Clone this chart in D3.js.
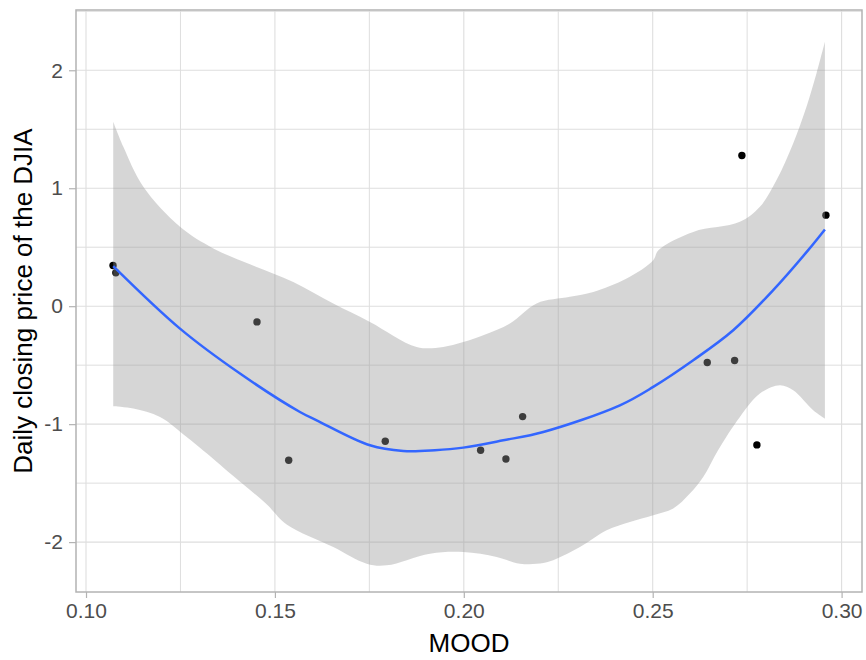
<!DOCTYPE html>
<html>
<head>
<meta charset="utf-8">
<script src="https://cdn.jsdelivr.net/npm/d3@7/dist/d3.min.js"></script>
<style>
  html, body { margin: 0; padding: 0; background: #fff; }
  svg { display: block; font-family: "Liberation Sans", Arial, sans-serif; }
</style>
</head>
<body>
<svg id="chart" width="866" height="660"></svg>
<script>
// ---- data ----
const moodX = [0.10715, 0.1079, 0.14526, 0.15365, 0.17921, 0.20445, 0.21115, 0.21557, 0.26444, 0.27168, 0.27758, 0.27361, 0.29585];
const djiaY = [0.345, 0.283, -0.133, -1.306, -1.145, -1.221, -1.295, -0.936, -0.478, -0.461, -1.176, 1.278, 0.772];

const smoothX = [0.1072, 0.12488, 0.14076, 0.15663, 0.16105, 0.17516, 0.18398, 0.19236, 0.19986, 0.21045, 0.22104, 0.24132, 0.25014, 0.26073, 0.27131, 0.2819, 0.29116, 0.29558];
const smoothY = [0.34, -0.19, -0.571, -0.897, -0.967, -1.179, -1.227, -1.221, -1.199, -1.137, -1.066, -0.840, -0.684, -0.458, -0.204, 0.136, 0.475, 0.650];

const upperX = [0.1072, 0.10988, 0.11517, 0.12488, 0.1337, 0.1434, 0.15486, 0.16545, 0.17516, 0.18751, 0.19457, 0.20515, 0.21221, 0.21927, 0.22809, 0.23427, 0.24309, 0.25014, 0.2515, 0.26073, 0.27308, 0.27837, 0.28278, 0.28718, 0.29071, 0.29336, 0.29558];
const upperY = [1.563, 1.351, 1.012, 0.673, 0.49, 0.355, 0.206, 0.023, -0.133, -0.345, -0.345, -0.246, -0.147, 0.023, 0.079, 0.121, 0.235, 0.39, 0.475, 0.63, 0.715, 0.842, 1.069, 1.38, 1.691, 1.974, 2.242];

const lowerX = [0.1072, 0.11253, 0.11959, 0.12665, 0.13017, 0.13899, 0.14781, 0.15311, 0.16545, 0.17428, 0.17957, 0.19104, 0.19986, 0.2087, 0.21486, 0.22104, 0.22456, 0.23074, 0.2378, 0.24397, 0.25014, 0.25543, 0.25984, 0.26337, 0.2673, 0.27308, 0.27837, 0.28366, 0.28719, 0.29248, 0.29558];
const lowerY = [-0.848, -0.868, -0.939, -1.109, -1.2, -1.44, -1.68, -1.85, -2.042, -2.183, -2.197, -2.098, -2.084, -2.126, -2.183, -2.178, -2.141, -2.042, -1.9, -1.83, -1.773, -1.716, -1.589, -1.448, -1.221, -0.939, -0.741, -0.67, -0.713, -0.882, -0.953];

const xTicks = [0.10, 0.15, 0.20, 0.25, 0.30];
const xTickLabels = ["0.10", "0.15", "0.20", "0.25", "0.30"];
const xMinor = [0.125, 0.175, 0.225, 0.275];
const yTicks = [-2, -1, 0, 1, 2];
const yTickLabels = ["-2", "-1", "0", "1", "2"];
const yMinor = [-1.5, -0.5, 0.5, 1.5, 2.5];

const xTitle = "MOOD";
const yTitle = "Daily closing price of the DJIA";

// ---- layout ----
const panel = { left: 76, right: 862, top: 10, bottom: 592 };
const svg = d3.select("#chart");

const x = d3.scaleLinear().domain([0.09735, 0.3054]).range([panel.left, panel.right]);
const y = d3.scaleLinear().domain([-2.423, 2.511]).range([panel.bottom, panel.top]);

const gridColor = "#DEDEDE";
const g = svg.append("g");

svg.append("clipPath").attr("id", "clip").append("rect")
  .attr("x", panel.left).attr("y", panel.top)
  .attr("width", panel.right - panel.left).attr("height", panel.bottom - panel.top);

const grid = g.append("g").attr("clip-path", "url(#clip)");
grid.selectAll("line.xmin").data(xMinor).join("line")
  .attr("x1", d => x(d)).attr("x2", d => x(d)).attr("y1", panel.top).attr("y2", panel.bottom)
  .attr("stroke", gridColor).attr("stroke-width", 1);
grid.selectAll("line.ymin").data(yMinor).join("line")
  .attr("y1", d => y(d)).attr("y2", d => y(d)).attr("x1", panel.left).attr("x2", panel.right)
  .attr("stroke", gridColor).attr("stroke-width", 1);
grid.selectAll("line.xmaj").data(xTicks).join("line")
  .attr("x1", d => x(d)).attr("x2", d => x(d)).attr("y1", panel.top).attr("y2", panel.bottom)
  .attr("stroke", gridColor).attr("stroke-width", 1.1);
grid.selectAll("line.ymaj").data(yTicks).join("line")
  .attr("y1", d => y(d)).attr("y2", d => y(d)).attr("x1", panel.left).attr("x2", panel.right)
  .attr("stroke", gridColor).attr("stroke-width", 1.1);

// points (drawn before ribbon, like ggplot layer order)
const pts = moodX.map((v, i) => [v, djiaY[i]]);
g.append("g").selectAll("circle").data(pts).join("circle")
  .attr("cx", d => x(d[0])).attr("cy", d => y(d[1])).attr("r", 3.7).attr("fill", "#000");

// ribbon
const upper = upperX.map((v, i) => [v, upperY[i]]);
const lower = lowerX.map((v, i) => [v, lowerY[i]]);
const lineGen = d3.line().x(d => x(d[0])).y(d => y(d[1])).curve(d3.curveCatmullRom.alpha(0.5));
const upPath = lineGen(upper);
const lowPath = lineGen(lower.slice().reverse());
g.append("path")
  .attr("d", upPath + "L" + lowPath.slice(1) + "Z")
  .attr("fill", "#999999").attr("fill-opacity", 0.4).attr("stroke", "none");

// smooth line
const smooth = smoothX.map((v, i) => [v, smoothY[i]]);
g.append("path").attr("d", lineGen(smooth))
  .attr("fill", "none").attr("stroke", "#3366FF").attr("stroke-width", 2.5);

// panel border
g.append("rect").attr("x", panel.left).attr("y", panel.top)
  .attr("width", panel.right - panel.left).attr("height", panel.bottom - panel.top)
  .attr("fill", "none").attr("stroke", "#B3B3B3").attr("stroke-width", 1.5);

// axes
const xAxis = d3.axisBottom(x).tickValues(xTicks).tickFormat((d, i) => xTickLabels[i]).tickSize(6).tickPadding(5);
const xg = g.append("g").attr("transform", `translate(0,${panel.bottom})`).call(xAxis);
xg.select(".domain").remove();
xg.selectAll(".tick line").attr("stroke", "#B3B3B3").attr("stroke-width", 1.2);
xg.selectAll(".tick text").attr("fill", "#4D4D4D").attr("font-size", 21)
  .attr("font-family", "Liberation Sans, Arial, sans-serif");

const yAxis = d3.axisLeft(y).tickValues(yTicks).tickFormat((d, i) => yTickLabels[i]).tickSize(7).tickPadding(6);
const yg = g.append("g").attr("transform", `translate(${panel.left},0)`).call(yAxis);
yg.select(".domain").remove();
yg.selectAll(".tick line").attr("stroke", "#B3B3B3").attr("stroke-width", 1.2);
yg.selectAll(".tick text").attr("fill", "#4D4D4D").attr("font-size", 21)
  .attr("font-family", "Liberation Sans, Arial, sans-serif");

// titles
svg.append("text").attr("x", (panel.left + panel.right) / 2).attr("y", 652)
  .attr("text-anchor", "middle").attr("font-size", 26).attr("fill", "#000").text(xTitle);
svg.append("text").attr("transform", `translate(32,${(panel.top + panel.bottom) / 2}) rotate(-90)`)
  .attr("text-anchor", "middle").attr("font-size", 26).attr("fill", "#000").text(yTitle);
</script>
</body>
</html>
